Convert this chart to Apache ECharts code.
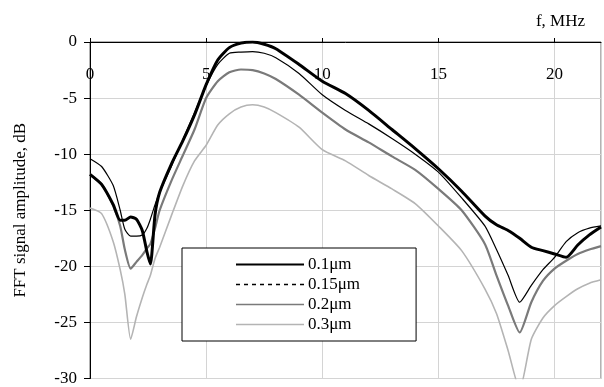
<!DOCTYPE html>
<html>
<head>
<meta charset="utf-8">
<script src="https://cdn.jsdelivr.net/npm/echarts@6/dist/echarts.min.js"></script>
<style>
  html, body { margin: 0; padding: 0; background: #fff; }
  #chart { width: 604px; height: 387px; }
</style>
</head>
<body>
<div id="chart"></div>
<script>
// frequency, MHz
const freq = [0, 0.5, 1, 1.3, 1.5, 1.75, 2, 2.25, 2.45, 2.6, 2.8, 3, 3.5, 4, 4.5, 5, 5.5, 6, 6.5, 7, 7.5, 8, 9, 10, 11, 12, 13, 14, 15, 16, 17, 17.5, 18, 18.5, 19, 19.5, 20, 20.5, 21, 21.5, 22]

// FFT amplitude, dB
const amp01 = [-11.8, -12.7, -14.5, -15.9, -15.9, -15.6, -15.8, -16.8, -18.7, -19.8, -15.4, -13.4, -10.9, -8.8, -6.5, -3.8, -1.6, -0.5, -0.1, 0, -0.2, -0.6, -2.0, -3.5, -4.6, -6.1, -7.8, -9.5, -11.3, -13.3, -15.5, -16.3, -16.8, -17.5, -18.3, -18.6, -18.9, -19.2, -18.1, -17.2, -16.5]
const amp015 = [-10.4, -11.1, -12.8, -15.0, -16.7, -17.3, -17.3, -17.2, -16.6, -15.8, -14.5, -13.4, -11.1, -8.7, -6.3, -3.9, -2.0, -1.0, -0.9, -0.85, -1.0, -1.4, -2.8, -4.7, -6.1, -7.3, -8.6, -10.0, -11.6, -13.9, -16.4, -18.5, -20.8, -23.2, -21.7, -20.3, -19.2, -17.8, -17.0, -16.6, -16.4]
const amp02 = [-11.8, -12.7, -14.6, -16.4, -18.5, -20.2, -19.6, -19.0, -18.4, -18.0, -16.6, -15.0, -12.4, -10.1, -7.8, -5.0, -3.5, -2.7, -2.45, -2.5, -2.8, -3.3, -4.7, -6.3, -7.8, -8.95, -10.2, -11.4, -13.1, -15.0, -18.0, -20.8, -23.5, -25.9, -23.2, -21.3, -20.2, -19.5, -18.9, -18.5, -18.2]
const amp03 = [-14.8, -15.3, -17.8, -20.3, -22.5, -26.5, -24.5, -22.8, -21.6, -20.8, -19.3, -18.3, -15.5, -12.8, -10.6, -9.2, -7.4, -6.4, -5.8, -5.6, -5.8, -6.3, -7.6, -9.6, -10.6, -11.9, -13.1, -14.4, -16.4, -18.6, -22.0, -24.2, -27.5, -31, -26.5, -24.6, -23.5, -22.7, -22.0, -21.5, -21.2]

const seriesNames = ['0.1μm', '0.15μm', '0.2μm', '0.3μm']

const yTicks = [0, -5, -10, -15, -20, -25, -30]

const font = 'Liberation Serif'

function pairs(ys) {
  return freq.map((x, i) => [x, ys[i]])
}

const chart = echarts.init(document.getElementById('chart'))

const option = {
  animation: false,
  title: {
    text: 'f, MHz',
    right: 14,
    top: 8,
    textStyle: { fontFamily: font, fontSize: 17, fontWeight: 'normal', color: '#000' }
  },
  grid: {
    left: 90,
    right: 3,
    top: 42,
    bottom: 7,
    show: true,
    borderColor: '#666',
    borderWidth: 1
  },
  legend: {
    orient: 'vertical',
    left: 182,
    top: 248,
    padding: [8, 56, 8, 53],
    itemGap: 3,
    itemWidth: 68,
    itemHeight: 14,
    borderColor: '#000',
    borderWidth: 1,
    backgroundColor: '#fff',
    // hide the circle that line series put on their legend icon
    itemStyle: { opacity: 0 },
    textStyle: { fontFamily: font, fontSize: 17, color: '#000', padding: [0, 0, 0, -1] },
    data: [
      { name: seriesNames[0] },
      { name: seriesNames[1], lineStyle: { type: [4, 4], width: 1.5, color: '#000' } },
      { name: seriesNames[2], lineStyle: { width: 1.5 } },
      { name: seriesNames[3], lineStyle: { width: 1.5 } }
    ]
  },
  xAxis: {
    type: 'value',
    position: 'top',
    min: 0,
    max: 22,
    interval: 5,
    axisLine: { onZero: false, lineStyle: { color: '#000', width: 1 } },
    axisTick: { show: true, inside: false, length: 4, lineStyle: { color: '#000' } },
    axisLabel: {
      inside: true,
      margin: 24,
      showMaxLabel: false,
      fontFamily: font,
      fontSize: 17,
      color: '#000'
    },
    splitLine: { show: true, lineStyle: { color: '#d4d4d4', width: 1 } }
  },
  yAxis: {
    type: 'value',
    min: -30,
    max: 0,
    interval: 5,
    name: 'FFT signal amplitude, dB',
    nameLocation: 'middle',
    nameRotate: 90,
    nameGap: 61,
    nameTextStyle: { fontFamily: font, fontSize: 17, color: '#000' },
    axisLine: { show: true, onZero: false, lineStyle: { color: '#000', width: 1 } },
    axisTick: { show: true, length: 6, lineStyle: { color: '#000' } },
    axisLabel: {
      margin: 13,
      fontFamily: font,
      fontSize: 17,
      color: '#000',
      formatter: v => (yTicks.indexOf(v) >= 0 ? String(v) : '')
    },
    splitLine: { show: true, lineStyle: { color: '#d4d4d4', width: 1 } }
  },
  series: [
    {
      name: seriesNames[0],
      type: 'line',
      data: pairs(amp01),
      symbol: 'none',
      smooth: 0.2,
      z: 6,
      lineStyle: { color: '#000', width: 3 },
      itemStyle: { color: '#000' }
    },
    {
      name: seriesNames[1],
      type: 'line',
      data: pairs(amp015),
      symbol: 'none',
      smooth: 0.2,
      z: 5,
      lineStyle: { color: '#000', width: 1.2 },
      itemStyle: { color: '#000' }
    },
    {
      name: seriesNames[2],
      type: 'line',
      data: pairs(amp02),
      symbol: 'none',
      smooth: 0.2,
      z: 4,
      lineStyle: { color: '#7a7a7a', width: 2.2 },
      itemStyle: { color: '#7a7a7a' }
    },
    {
      name: seriesNames[3],
      type: 'line',
      data: pairs(amp03),
      symbol: 'none',
      smooth: 0.2,
      z: 3,
      lineStyle: { color: '#b4b4b4', width: 1.6 },
      itemStyle: { color: '#b4b4b4' }
    }
  ]
}

chart.setOption(option)
</script>
</body>
</html>
